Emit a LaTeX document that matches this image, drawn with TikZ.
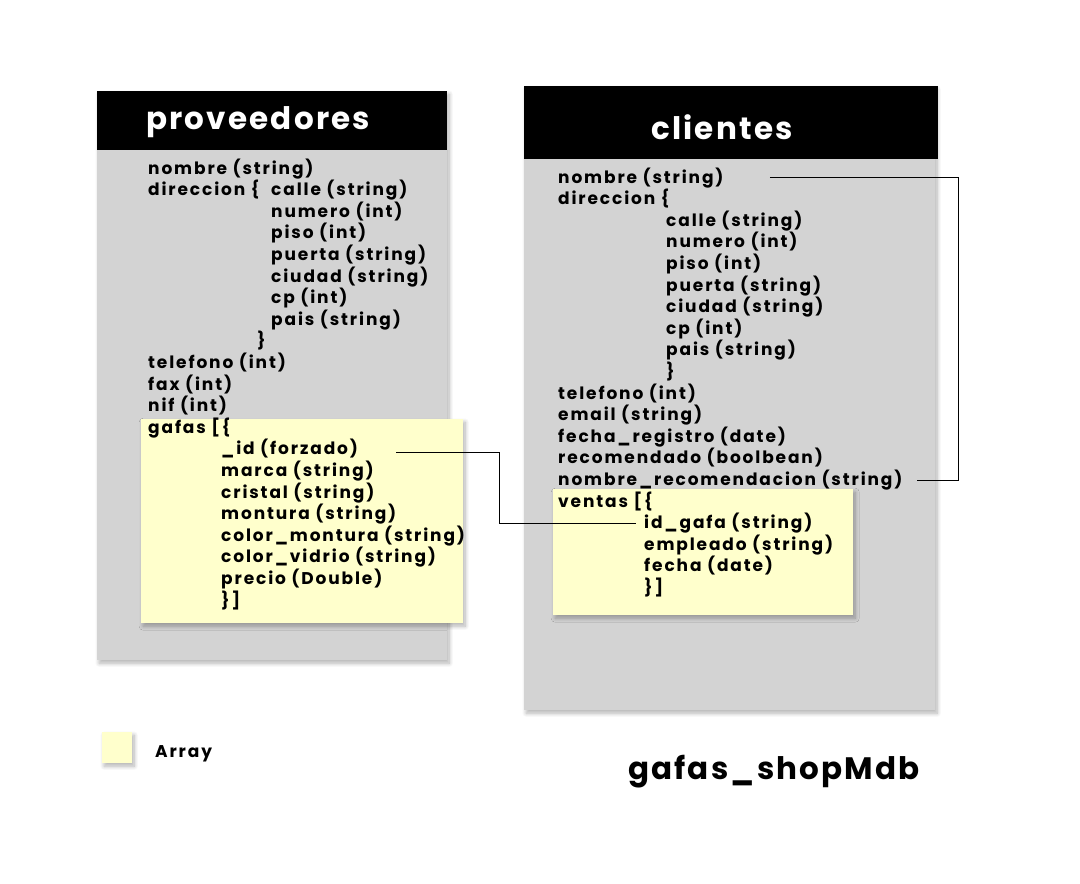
\documentclass[tikz,border=0pt]{standalone}
\usepackage{fontspec}
\setmainfont{Poppins}
\newfontfamily\fieldfont{Poppins}[LetterSpace=11]
\newfontfamily\headfont{Poppins}[LetterSpace=7]
\usetikzlibrary{positioning, shadows.blur}

\definecolor{tablegray}{HTML}{D3D3D3}
\definecolor{arrayyellow}{HTML}{FFFFCC}

\begin{document}
\begin{tikzpicture}[x=1pt, y=-1pt]
    \tikzset{
        shade/.style = {blur shadow={shadow xshift=2pt, shadow yshift=-3pt, shadow blur radius=4pt, shadow blur steps=10, shadow opacity=30}},
        table/.style = {rectangle, fill=tablegray, anchor=north west, inner sep=0pt, shade},
        header/.style = {rectangle, fill=black, anchor=north west, inner sep=0pt},
        array/.style = {rectangle, fill=arrayyellow, anchor=north west, inner sep=0pt, shade},
        title/.style = {anchor=west, inner sep=0pt, text=white, font=\headfont\bfseries\fontsize{31}{36}\selectfont},
        field/.style = {anchor=base west, inner sep=0pt, font=\fieldfont\bfseries\fontsize{17}{20}\selectfont},
        link/.style = {draw, line width=0.8pt}
    }
    \useasboundingbox (0,0) rectangle (1080,884);

    % proveedores
    \node[table, minimum width=350pt, minimum height=569pt] (prov) at (97,91) {};
    \node[header, minimum width=350pt, minimum height=59pt] (provhead) at (97,91) {};
    \node[title] (provtitle) at (146,122) {proveedores};
    \node[array, minimum width=322pt, minimum height=204pt] (gafas) at (141,419) {};

    % clientes
    \node[table, minimum width=411pt, minimum height=624pt] (cli) at (524,86) {};
    \node[header, minimum width=414pt, minimum height=73pt] (clihead) at (524,86) {};
    \node[title, anchor=center] (clititle) at (722,127) {clientes};
    \node[array, minimum width=300pt, minimum height=126pt] (ventas) at (553,489) {};

    % campos de proveedores
    \foreach \name/\row/\x/\txt in {
        pnombre/0/148/nombre (string), pdir/1/148/direccion \{, pcalle/1/271/calle (string),
        pnum/2/271/numero (int), ppiso/3/271/piso (int), ppuerta/4/271/puerta (string),
        pciudad/5/271/ciudad (string), pcp/6/271/cp (int), ppais/7/271/pais (string),
        pclose/8/257/\}, ptel/9/148/telefono (int), pfax/10/148/fax (int), pnif/11/148/nif (int),
        pgafas/12/148/gafas [\{, pid/13/221/\_id (forzado), pmarca/14/221/marca (string),
        pcristal/15/221/cristal (string), pmontura/16/221/montura (string),
        pcolmon/17/221/color\_montura (string), pcolvid/18/221/color\_vidrio (string),
        pprecio/19/221/precio (Double), pend/20/221/\}]}
        \node[field] (\name) at (\x, 174+21.6*\row) {\txt};

    % campos de clientes
    \foreach \name/\row/\x/\txt in {
        cnombre/0/558/nombre (string), cdir/1/558/direccion \{, ccalle/2/666/calle (string),
        cnum/3/666/numero (int), cpiso/4/666/piso (int), cpuerta/5/666/puerta (string),
        cciudad/6/666/ciudad (string), ccp/7/666/cp (int), cpais/8/666/pais (string),
        cclose/9/666/\}, ctel/10/558/telefono (int), cemail/11/558/email (string),
        cfecreg/12/558/fecha\_registro (date), crecom/13/558/recomendado (boolbean),
        cnomrec/14/558/nombre\_recomendacion (string), cventas/15/558/ventas [\{,
        cid/16/644/id\_gafa (string), cemp/17/644/empleado (string),
        cfecha/18/644/fecha (date), cend/19/644/\}]}
        \node[field] (\name) at (\x, 183+21.6*\row) {\txt};

    % leyenda
    \node[array, minimum width=30pt, minimum height=31pt] (legend) at (102,732) {};
    \node[field] (legendtxt) at (155,757) {Array};
    \node[title, text=black, anchor=west] (dbname) at (628,772) {gafas\_shopMdb};

    % relaciones
    \path[link] ([shift={(38,4)}]pid.east) -| ([shift={(-145,0)}]cid.west) -- ([xshift=-8pt]cid.west);
    \path[link] ([shift={(46,0)}]cnombre.east) -| ([shift={(23,0)}]cli.east) |- ([xshift=14pt]cnomrec.east);
\end{tikzpicture}
\end{document}
